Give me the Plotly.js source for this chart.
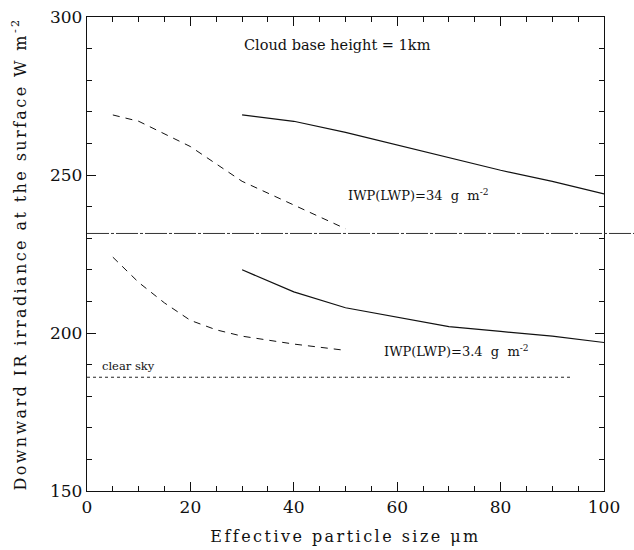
<!DOCTYPE html>
<html>
<head>
<meta charset="utf-8">
<script src="https://cdn.plot.ly/plotly-3.0.1.min.js"></script>
<style>
html,body{margin:0;padding:0;background:#fff;}
#chart{width:634px;height:550px;}
</style>
</head>
<body>
<div id="chart"></div>
<script>
// Data
const dashedHighX = [5, 10, 20, 30, 40, 50];
const dashedHighY = [269, 267, 259, 248, 240.5, 233];
const solidHighX = [30, 40, 50, 60, 70, 80, 90, 100];
const solidHighY = [269, 267, 263.5, 259.5, 255.5, 251.5, 248, 244];
const dashedLowX = [5, 10, 15, 20, 25, 30, 40, 50];
const dashedLowY = [224, 216, 209.5, 204, 201, 199, 196.5, 194.5];
const solidLowX = [30, 40, 50, 60, 70, 80, 90, 100];
const solidLowY = [220, 213, 208, 205, 202, 200.5, 199, 197];
const clearSkyX = [0, 94];
const clearSkyY = [186, 186];
const dividerY = 231.5;

const font = "DejaVu Serif, Liberation Serif, serif";

const traces = [
  {x: dashedHighX, y: dashedHighY, mode: 'lines', line: {color: '#111', width: 1, dash: '7px,6px'}},
  {x: solidHighX, y: solidHighY, mode: 'lines', line: {color: '#111', width: 1.2}},
  {x: dashedLowX, y: dashedLowY, mode: 'lines', line: {color: '#111', width: 1, dash: '7px,6px'}},
  {x: solidLowX, y: solidLowY, mode: 'lines', line: {color: '#111', width: 1.2}},
  {x: clearSkyX, y: clearSkyY, mode: 'lines', line: {color: '#222', width: 1, dash: 'dot'}}
];

const layout = {
  width: 634, height: 550,
  margin: {l: 87, r: 30, t: 17, b: 59},
  paper_bgcolor: '#fff', plot_bgcolor: '#fff',
  showlegend: false,
  font: {family: font, color: '#111'},
  xaxis: {
    range: [0, 100], tickvals: [0, 20, 40, 60, 80, 100],
    ticks: 'inside', ticklen: 9, tickcolor: '#111', tickwidth: 1,
    minor: {dtick: 5, ticks: 'inside', ticklen: 5, tickcolor: '#111'},
    showline: true, linecolor: '#111', linewidth: 1.2, mirror: 'ticks',
    showgrid: false, zeroline: false,
    tickfont: {size: 17, family: font},
    title: {text: 'Effective particle size μm', font: {size: 16, family: font}, standoff: 15}
  },
  yaxis: {
    range: [150, 300], tickvals: [150, 200, 250, 300],
    ticks: 'inside', ticklen: 9, tickcolor: '#111', tickwidth: 1,
    minor: {dtick: 10, ticks: 'inside', ticklen: 5, tickcolor: '#111'},
    showline: true, linecolor: '#111', linewidth: 1.2, mirror: 'ticks',
    showgrid: false, zeroline: false,
    tickfont: {size: 17, family: font},
    title: {text: 'Downward IR irradiance at the surface W m<sup>-2</sup>', font: {size: 16, family: font}, standoff: 19}
  },
  shapes: [
    {type: 'line', xref: 'paper', yref: 'y', x0: 0, x1: (634 - 87) / 517, y0: dividerY, y1: dividerY,
     line: {color: '#333', width: 1, dash: '22px,2px,3px,2px'}}
  ],
  annotations: [
    {x: 48.5, y: 291, xref: 'x', yref: 'y', text: 'Cloud base height = 1km', showarrow: false,
     font: {size: 14.5, family: font}},
    {x: 50, y: 243.7, xref: 'x', yref: 'y', xanchor: 'left', text: 'IWP(LWP)=34  g  m<sup>-2</sup>', showarrow: false,
     font: {size: 13, family: font}},
    {x: 57, y: 194.3, xref: 'x', yref: 'y', xanchor: 'left', text: 'IWP(LWP)=3.4  g  m<sup>-2</sup>', showarrow: false,
     font: {size: 13, family: font}},
    {x: 2.5, y: 189.5, xref: 'x', yref: 'y', xanchor: 'left', text: 'clear sky', showarrow: false,
     font: {size: 11.5, family: font}}
  ]
};

// Widen a title with letter spacing to a target length and keep it centred
function spread(sel, target) {
  const t = document.querySelector(sel);
  if (!t) return;
  t.style.letterSpacing = '0px';
  const n = t.textContent.length;
  const w0 = t.getBBox().width;
  const ls = Math.max(0, (target - w0) / n);
  t.style.letterSpacing = ls + 'px';
  const bb = t.getBBox();
  const cx = parseFloat(t.getAttribute('x'));
  const dx = cx - (bb.x + bb.width / 2);
  const tr = t.getAttribute('transform') || '';
  t.setAttribute('transform', (tr + ' translate(' + dx + ',0)').trim());
}

Plotly.newPlot('chart', traces, layout, {displayModeBar: false, staticPlot: true}).then(function () {
  spread('#chart text.ytitle', 478);
  spread('#chart text.xtitle', 270);
});
</script>
</body>
</html>
